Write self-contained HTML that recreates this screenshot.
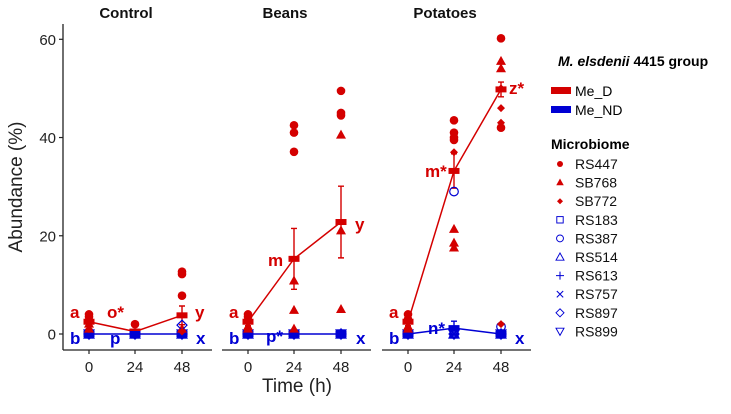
<!DOCTYPE html>
<html><head><meta charset="utf-8"><style>
body{margin:0;background:#fff}
svg text{font-family:"Liberation Sans",Arial,sans-serif}
</style></head><body>
<svg id="chart" width="731" height="409" viewBox="0 0 731 409" xmlns="http://www.w3.org/2000/svg">
<g id="g"></g>
<g font-size="14">
<text x="558" y="66" font-weight="bold" font-size="14"><tspan font-style="italic">M. elsdenii</tspan> 4415 group</text>
<rect x="551" y="87" width="20" height="7" fill="#d40000"/>
<text x="575" y="96">Me_D</text>
<rect x="551" y="106" width="20" height="7" fill="#0000d4"/>
<text x="575" y="115">Me_ND</text>
<text x="551" y="149" font-weight="bold">Microbiome</text>
</g>
</svg>
<script>
const panels=["Control","Beans","Potatoes"];
const times=[0,24,48];
const yTicks=[0,20,40,60];
const meanD=[[2.5,0.5,3.8],[2.5,15.3,22.8],[2.5,33.2,49.8]];
const errD=[[0.8,0.3,1.9],[0.8,6.2,7.3],[0.8,3.5,1.5]];
const meanND=[[0,0,0],[0,0,0],[0,1.2,0]];
const errND=[[0.2,0.2,0.2],[0.2,0.2,0.2],[0.2,1.4,0.3]];
const ptsPanel=[0,0,0,0,0,0,0,0,0,0,0,0, 1,1,1,1,1,1,1,1,1,1,1,1,1,1,1,1, 2,2,2,2,2,2,2,2,2,2,2,2,2,2,2,2,2,2,2,2,2,2,2];
const ptsTime=[0,0,0,0,0,1,2,2,2,2,2,2, 0,0,0,0,1,1,1,1,1,1,2,2,2,2,2,2, 0,0,0,0,1,1,1,1,1,1,1,1,1,2,2,2,2,2,2,2,2,2,2];
const ptsVal=[4,3.5,2,1,1,2,12.7,12.2,7.8,1,1.8,0.5, 4,3.5,1.5,1,42.5,41,37.1,10.8,4.8,1, 49.5,45,44.5,40.5,21,5, 4,3,1.5,1,43.5,41,40,39.5,37,21.3,18.5,17.5,29, 60.2,55.5,54,50,46,43,42,42,1.5,2];
const ptsShape=["c","c","t","t","d","c","c","c","c","t","od","d", "c","c","t","t","c","c","c","t","t","t","c","c","c","t","t","t", "c","c","t","t","c","c","c","c","d","t","t","t","oc", "c","t","t","d","d","d","d","c","oc","d"];
const red="#d40000",blue="#0000d4";
const y0=334,yScale=(334-39.3)/60;
const panelX=[63,222,382],pw=150,tOff=[26,72,119];
function yPos(v){return y0-v*yScale;}
function xPos(p,ti){return panelX[p]+tOff[ti];}
const g=document.getElementById('g');
const NS="http://www.w3.org/2000/svg";
function mk(tag,attrs,parent){const e=document.createElementNS(NS,tag);for(const k in attrs)e.setAttribute(k,attrs[k]);(parent||g).appendChild(e);return e;}
function txt(x,y,s,attrs,name){const e=mk('text',Object.assign({x:x,y:y},attrs));e.textContent=s;


return e;}
function marker(shape,x,y,col,parent){let e;
if(shape=="c")e=mk('circle',{cx:x,cy:y,r:4.3,fill:col},parent);
else if(shape=="t")e=mk('polygon',{points:`${x},${y-5.5} ${x-5},${y+3.5} ${x+5},${y+3.5}`,fill:col},parent);
else if(shape=="d")e=mk('polygon',{points:`${x},${y-4} ${x-4},${y} ${x},${y+4} ${x+4},${y}`,fill:col},parent);
else if(shape=="oc")e=mk('circle',{cx:x,cy:y,r:4.3,fill:"none",stroke:col,"stroke-width":1.2},parent);
else if(shape=="od")e=mk('polygon',{points:`${x},${y-5} ${x-5},${y} ${x},${y+5} ${x+5},${y}`,fill:"none",stroke:col,"stroke-width":1.2},parent);
else if(shape=="os")e=mk('rect',{x:x-4,y:y-4,width:8,height:8,fill:"none",stroke:col,"stroke-width":1.2},parent);
else if(shape=="ot")e=mk('polygon',{points:`${x},${y-5} ${x-5},${y+4} ${x+5},${y+4}`,fill:"none",stroke:col,"stroke-width":1.2},parent);
else if(shape=="ov")e=mk('polygon',{points:`${x},${y+5} ${x-5},${y-4} ${x+5},${y-4}`,fill:"none",stroke:col,"stroke-width":1.2},parent);
else if(shape=="p")e=mk('path',{d:`M${x-5} ${y}H${x+5}M${x} ${y-5}V${y+5}`,stroke:col,"stroke-width":1.3},parent);
else if(shape=="x")e=mk('path',{d:`M${x-4} ${y-4}L${x+4} ${y+4}M${x+4} ${y-4}L${x-4} ${y+4}`,stroke:col,"stroke-width":1.3},parent);
return e;}
const yax=mk('line',{x1:63,y1:24,x2:63,y2:350,stroke:"#222","stroke-width":1.3});


yTicks.forEach(t=>{const y=yPos(t);
const l=mk('line',{x1:59,y1:y,x2:63,y2:y,stroke:"#222","stroke-width":1.2});


txt(56,y+5.5,String(t),{"text-anchor":"end","font-size":15,fill:"#222"},'y-tick-label');});
txt(0,0,"Abundance (%)",{"font-size":19,"text-anchor":"middle",transform:"translate(22,187) rotate(-90)",fill:"#222"},'y-axis-title');
txt(297,392,"Time (h)",{"font-size":19,"text-anchor":"middle",fill:"#222"},'x-axis-title');
const letters=[
[["a",70,318,red],["b",70,344,blue],["o*",107,318,red],["p",110,344,blue],["y",195,318,red],["x",196,344,blue]],
[["a",229,318,red],["b",229,344,blue],["m",268,266,red],["p*",266,342,blue],["y",355,230,red],["x",356,344,blue]],
[["a",389,318,red],["b",389,344,blue],["m*",425,177,red],["n*",428,334,blue],["z*",509,94,red],["x",515,344,blue]]];
panels.forEach((name,p)=>{
 const x0=panelX[p];
 txt(x0+pw/2-12,18,name,{"font-size":15,"font-weight":"bold","text-anchor":"middle",fill:"#111"},'panel-title-'+name.toLowerCase());
 const ax=mk('line',{x1:x0,y1:350,x2:x0+pw-1,y2:350,stroke:"#222","stroke-width":1.3});
 
 
 times.forEach((t,ti)=>{const x=xPos(p,ti);
  const tk=mk('line',{x1:x,y1:350,x2:x,y2:354,stroke:"#222","stroke-width":1.2});
  
  
  txt(x,372,String(t),{"font-size":15,"text-anchor":"middle",fill:"#222"},'x-tick-label');});
 times.forEach((t,ti)=>{const x=xPos(p,ti);
  ["os","oc","ot","p","x","od","ov"].forEach(s=>{const m=marker(s,x,yPos(0),blue);
  
  });});
 [[meanD,errD,red,'me-d'],[meanND,errND,blue,'me-nd']].forEach(([m,e,col,nm])=>{
  const pl=mk('polyline',{points:times.map((t,ti)=>xPos(p,ti)+","+yPos(m[p][ti])).join(" "),fill:"none",stroke:col,"stroke-width":1.5});
  
  
  times.forEach((t,ti)=>{const x=xPos(p,ti),yt=yPos(m[p][ti]+e[p][ti]),yb=yPos(m[p][ti]-e[p][ti]);
   const eb=mk('path',{d:`M${x} ${yt}V${yb}M${x-3} ${yt}H${x+3}M${x-3} ${yb}H${x+3}`,stroke:col,"stroke-width":1.4,fill:"none"});
   
   
   const r=mk('rect',{x:x-5.5,y:yPos(m[p][ti])-3,width:11,height:6,fill:col});
   
   });});
 letters[p].forEach(([s,x,y,col])=>txt(x,y,s,{"font-size":17,"font-weight":"bold",fill:col},'significance-letter'));
});
ptsVal.forEach((v,i)=>{const col=ptsShape[i].startsWith("o")?blue:red;
 const m=marker(ptsShape[i],xPos(ptsPanel[i],ptsTime[i]),yPos(v),col);
 
 });
const legNames=["RS447","SB768","SB772","RS183","RS387","RS514","RS613","RS757","RS897","RS899"];
const legShapes=["c","t","d","os","oc","ot","p","x","od","ov"];
legNames.forEach((n,i)=>{const y=169+i*18.6;const col=i<3?red:blue;
 const lg=mk('g',{});
 
 
 const s=legShapes[i];
 const mm=marker(s,560,y-5,col,lg);
 if(s=="c")mm.setAttribute('r',3);
 if(s=="d"||s=="t")mm.setAttribute('transform',`translate(560 ${y-5}) scale(0.75) translate(-560 ${-(y-5)})`);
 if(["os","oc","ot","od","ov","p","x"].includes(s))mm.setAttribute('transform',`translate(560 ${y-5}) scale(0.8) translate(-560 ${-(y-5)})`);
 const t=mk('text',{x:575,y:y,"font-size":14,fill:"#111"},lg);t.textContent=n;});
</script>
</body></html>
